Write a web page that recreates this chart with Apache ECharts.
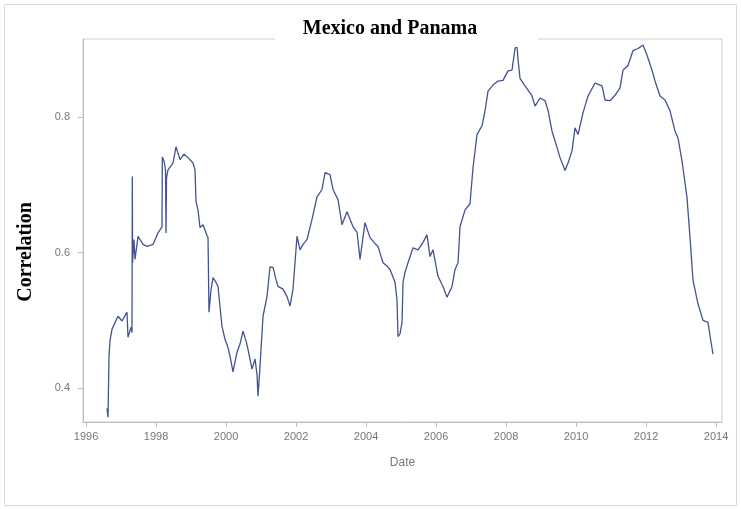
<!DOCTYPE html>
<html>
<head>
<meta charset="utf-8">
<script src="https://cdn.jsdelivr.net/npm/echarts@6/dist/echarts.min.js"></script>
<style>
  html, body { margin: 0; padding: 0; background: #ffffff; }
  #chart { width: 741px; height: 509px; }
</style>
</head>
<body>
<div id="chart"></div>
<script>
// Rolling correlation between Mexico and Panama, by date (decimal years)
const dates = [
  1996.600, 1996.629, 1996.657, 1996.686, 1996.743, 1996.914, 1997.029, 1997.171, 1997.200, 1997.286,
  1997.314, 1997.323, 1997.331, 1997.371, 1997.400, 1997.486, 1997.629, 1997.743, 1997.914, 1998.057,
  1998.171, 1998.180, 1998.229, 1998.271, 1998.286, 1998.300, 1998.343, 1998.486, 1998.571, 1998.686,
  1998.800, 1998.914, 1999.057, 1999.114, 1999.143, 1999.200, 1999.257, 1999.343, 1999.457, 1999.486,
  1999.514, 1999.571, 1999.629, 1999.714, 1999.771, 1999.829, 1999.886, 1999.971, 2000.057, 2000.114,
  2000.200, 2000.314, 2000.400, 2000.486, 2000.571, 2000.629, 2000.743, 2000.829, 2000.886, 2000.914,
  2000.971, 2001.057, 2001.171, 2001.257, 2001.343, 2001.429, 2001.486, 2001.629, 2001.743, 2001.829,
  2001.914, 2002.029, 2002.114, 2002.200, 2002.314, 2002.457, 2002.600, 2002.743, 2002.829, 2002.971,
  2003.057, 2003.200, 2003.314, 2003.457, 2003.629, 2003.743, 2003.829, 2003.971, 2004.114, 2004.229,
  2004.343, 2004.486, 2004.600, 2004.686, 2004.829, 2004.886, 2004.914, 2004.971, 2005.029, 2005.057,
  2005.114, 2005.200, 2005.343, 2005.486, 2005.629, 2005.743, 2005.829, 2005.914, 2006.057, 2006.200,
  2006.314, 2006.457, 2006.543, 2006.629, 2006.686, 2006.829, 2006.971, 2007.057, 2007.171, 2007.314,
  2007.400, 2007.486, 2007.629, 2007.771, 2007.914, 2008.057, 2008.171, 2008.257, 2008.314, 2008.343,
  2008.400, 2008.543, 2008.743, 2008.829, 2008.971, 2009.114, 2009.200, 2009.314, 2009.400, 2009.543,
  2009.686, 2009.771, 2009.886, 2009.971, 2010.057, 2010.200, 2010.343, 2010.543, 2010.743, 2010.829,
  2010.971, 2011.114, 2011.257, 2011.343, 2011.486, 2011.629, 2011.771, 2011.914, 2012.029, 2012.171,
  2012.257, 2012.400, 2012.543, 2012.686, 2012.829, 2012.914, 2013.029, 2013.171, 2013.257, 2013.343,
  2013.486, 2013.629, 2013.771, 2013.857, 2013.914
];
const correlation = [
  0.370, 0.357, 0.447, 0.470, 0.487, 0.506, 0.499, 0.512, 0.475, 0.490,
  0.482, 0.712, 0.585, 0.619, 0.590, 0.624, 0.612, 0.609, 0.612, 0.629,
  0.638, 0.741, 0.735, 0.722, 0.629, 0.710, 0.722, 0.732, 0.756, 0.737,
  0.745, 0.740, 0.732, 0.722, 0.675, 0.663, 0.637, 0.641, 0.625, 0.622,
  0.512, 0.545, 0.563, 0.556, 0.550, 0.520, 0.491, 0.472, 0.460, 0.447,
  0.424, 0.453, 0.465, 0.484, 0.470, 0.457, 0.428, 0.443, 0.420, 0.388,
  0.432, 0.506, 0.535, 0.579, 0.578, 0.560, 0.550, 0.546, 0.535, 0.521,
  0.546, 0.624, 0.604, 0.612, 0.619, 0.649, 0.682, 0.693, 0.718, 0.715,
  0.693, 0.678, 0.641, 0.660, 0.638, 0.630, 0.590, 0.644, 0.622, 0.615,
  0.609, 0.585, 0.580, 0.575, 0.556, 0.530, 0.476, 0.480, 0.497, 0.556,
  0.571, 0.585, 0.607, 0.604, 0.615, 0.626, 0.594, 0.604, 0.565, 0.550,
  0.534, 0.550, 0.575, 0.585, 0.638, 0.663, 0.672, 0.725, 0.774, 0.787,
  0.809, 0.838, 0.847, 0.853, 0.854, 0.868, 0.869, 0.901, 0.905, 0.885,
  0.857, 0.846, 0.831, 0.816, 0.828, 0.824, 0.810, 0.779, 0.765, 0.740,
  0.721, 0.732, 0.750, 0.784, 0.774, 0.806, 0.831, 0.850, 0.846, 0.825,
  0.824, 0.832, 0.843, 0.869, 0.876, 0.898, 0.901, 0.906, 0.891, 0.869,
  0.853, 0.831, 0.825, 0.809, 0.779, 0.769, 0.735, 0.681, 0.622, 0.559,
  0.524, 0.500, 0.497, 0.468, 0.450
];
const yearTicks = [1996, 1998, 2000, 2002, 2004, 2006, 2008, 2010, 2012, 2014];
const corrTicks = [0.4, 0.6, 0.8];

const seriesData = dates.map((d, i) => [d, correlation[i]]);

const chart = echarts.init(document.getElementById('chart'), null, { renderer: 'canvas' });
const axisGray = '#bdbdbd';
const labelGray = '#777777';

chart.setOption({
  backgroundColor: '#ffffff',
  animation: false,
  grid: {
    left: 83, right: 19, top: 39, bottom: 87,
    show: true, borderColor: '#cfcfcf', borderWidth: 1, backgroundColor: 'transparent'
  },
  xAxis: {
    type: 'value',
    min: 1995.914, max: 2014.171,
    name: 'Date', nameLocation: 'middle', nameGap: 35,
    nameTextStyle: { color: labelGray, fontSize: 12, fontFamily: 'Liberation Sans, Arial, sans-serif' },
    axisLine: { show: true, lineStyle: { color: axisGray } },
    axisTick: { show: true, length: 5, lineStyle: { color: axisGray }, customValues: yearTicks },
    axisLabel: {
      color: labelGray, fontSize: 11, margin: 9,
      fontFamily: 'Liberation Sans, Arial, sans-serif',
      customValues: yearTicks,
      formatter: v => String(Math.round(v))
    },
    splitLine: { show: false }
  },
  yAxis: {
    type: 'value',
    min: 0.35, max: 0.915,
    axisLine: { show: true, lineStyle: { color: axisGray } },
    axisTick: { show: true, length: 5, lineStyle: { color: axisGray }, customValues: corrTicks },
    axisLabel: {
      color: labelGray, fontSize: 11, margin: 13,
      fontFamily: 'Liberation Sans, Arial, sans-serif',
      customValues: corrTicks,
      formatter: v => v.toFixed(1)
    },
    splitLine: { show: false }
  },
  graphic: [
    {
      type: 'rect', z: 100, silent: true,
      shape: { x: 4.5, y: 4.5, width: 732, height: 501 },
      style: { fill: 'none', stroke: '#dadada', lineWidth: 1 }
    },
    {
      type: 'rect', z: 100, silent: true,
      shape: { x: 275, y: 12, width: 263, height: 35 },
      style: { fill: '#ffffff' }
    },
    {
      type: 'text', z: 101, silent: true,
      style: {
        text: 'Mexico and Panama', x: 390, y: 29,
        align: 'center', verticalAlign: 'middle',
        font: 'bold 20px "Liberation Serif", "Times New Roman", serif', fill: '#000000'
      }
    },
    {
      type: 'text', z: 101, silent: true,
      x: 26, y: 252, rotation: Math.PI / 2,
      style: {
        text: 'Correlation', x: 0, y: 0,
        align: 'center', verticalAlign: 'middle',
        font: 'bold 20px "Liberation Serif", "Times New Roman", serif', fill: '#000000'
      }
    }
  ],
  series: [{
    type: 'line',
    data: seriesData,
    showSymbol: false,
    smooth: false,
    lineStyle: { color: '#43538f', width: 1.3 },
    z: 5
  }]
});
</script>
</body>
</html>
